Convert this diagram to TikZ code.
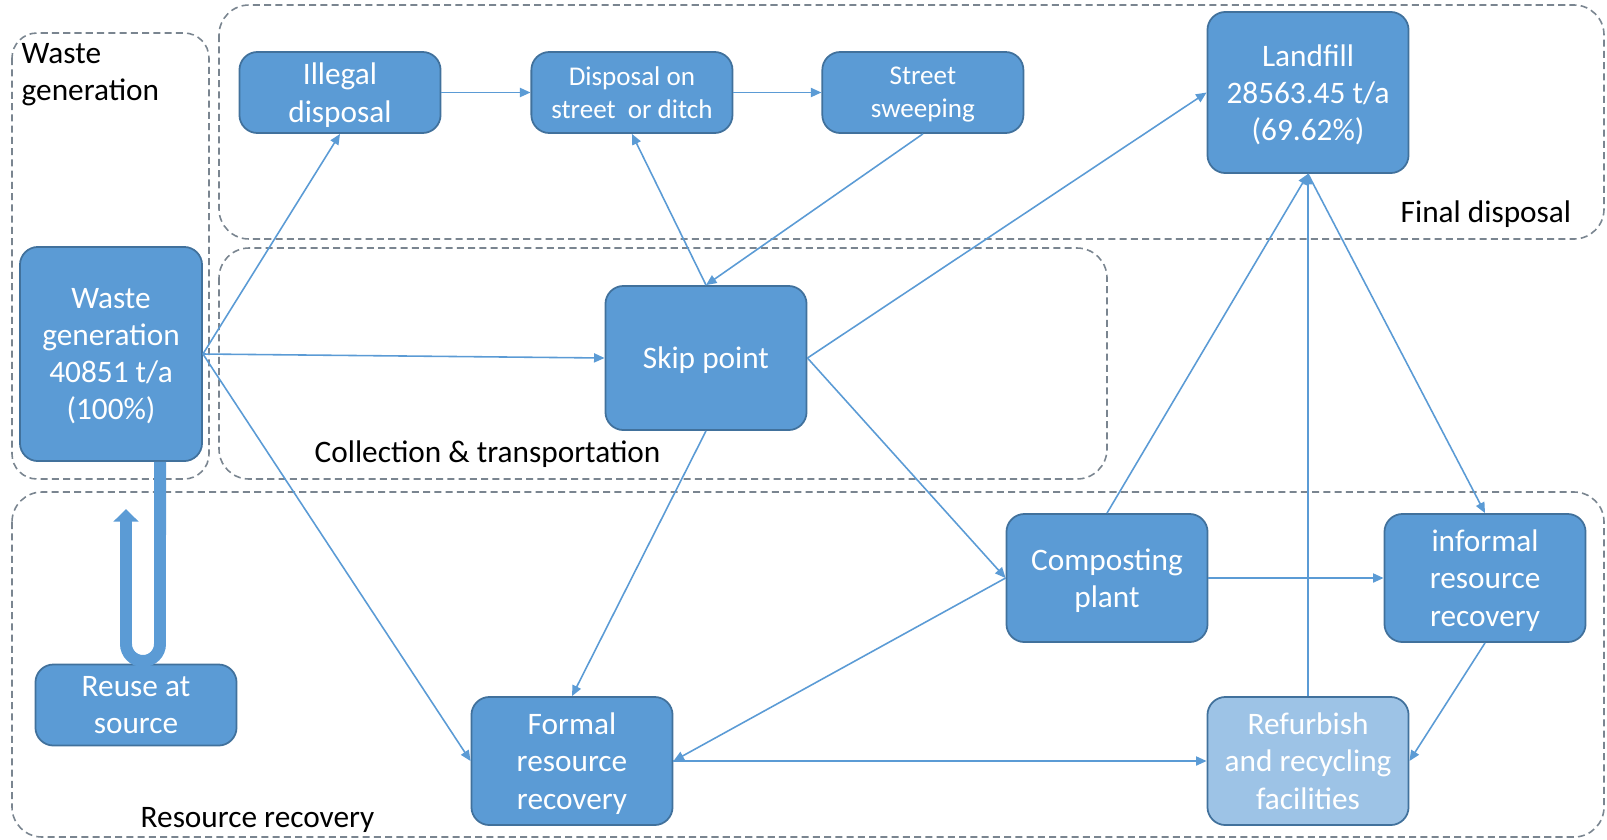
\documentclass[tikz,border=0pt]{standalone}
\usepackage{fontspec}
\setmainfont{Carlito}
\usetikzlibrary{arrows.meta, positioning}
\definecolor{boxblue}{HTML}{5B9BD5}
\definecolor{boxedge}{HTML}{41719C}
\definecolor{boxlight}{HTML}{9DC3E6}
\definecolor{groupgray}{HTML}{7A8590}

\begin{document}
\begin{tikzpicture}[
    x=0.01cm, y=-0.01cm,
    box/.style={draw=boxedge, fill=boxblue, text=white, rounded corners=0.18cm, line width=0.5pt,
        minimum width=2.01cm, minimum height=0.81cm, align=center, inner sep=2pt, text depth=0pt,
        font=\fontsize{8.9}{10.6}\selectfont},
    smallbox/.style={box, font=\fontsize{7.7}{9.5}\selectfont},
    groupbox/.style={draw=groupgray, line width=0.45pt, dash pattern=on 2pt off 1.2pt, rounded corners=0.3cm},
    grouplabel/.style={inner sep=0pt, font=\fontsize{8.9}{10.6}\selectfont},
    flow/.style={draw=boxblue, line width=0.45pt, -{Triangle[length=3pt, width=2.6pt]}},
    reusearrow/.style={draw=boxblue, line width=3.4pt, -{Triangle[length=3.6pt, width=7pt]}}
]
    \useasboundingbox (0,0) rectangle (1607,839);

    % Stage groups (dashed)
    \draw[groupbox, rounded corners=0.25cm] (12,33) rectangle (209,479);
    \draw[groupbox] (219,5) rectangle (1604,239);
    \draw[groupbox] (219,248) rectangle (1107,479);
    \draw[groupbox] (12,492) rectangle (1604,837);

    \node[grouplabel, anchor=west, align=left] (wglabel) at (21,75) {Waste\\generation};
    \node[grouplabel, anchor=base west] (fdlabel) at (1400,222) {Final disposal};
    \node[grouplabel, anchor=base west] (ctlabel) at (314,462) {Collection \& transportation};
    \node[grouplabel, anchor=base west] (rrlabel) at (140,827) {Resource recovery};

    % Source
    \node[box, minimum width=1.82cm, minimum height=2.14cm] (wastegen) at (111,354) {Waste\\generation\\40851 t/a\\(100\%)};
    \node[box] (reuse) at (136,705) {Reuse at\\source};

    % Final disposal row
    \node[box] (illegal) at (340,92.5) {Illegal\\disposal};
    \node[smallbox, right=0.89cm of illegal] (disposal) {Disposal on\\street~ or ditch};
    \node[smallbox, right=0.88cm of disposal] (street) {Street\\sweeping};
    \node[box, minimum height=1.61cm] (landfill) at (1308,92.5) {Landfill\\28563.45 t/a\\(69.62\%)};

    % Collection
    \node[box, minimum height=1.44cm] (skip) at (706,358) {Skip point};

    % Resource recovery
    \node[box, minimum height=1.28cm] (composting) at (1107,578) {Composting\\plant};
    \node[box, minimum height=1.28cm] (informal) at (1485,578) {informal\\resource\\recovery};
    \node[box, minimum height=1.28cm] (formal) at (572,761) {Formal\\resource\\recovery};
    \node[box, fill=boxlight, minimum height=1.28cm] (refurbish) at (landfill |- formal) {Refurbish\\and recycling\\facilities};

    % Flows
    \draw[flow] (wastegen.east) -- (illegal.south);
    \draw[flow] (wastegen.east) -- (skip.west);
    \draw[flow] (wastegen.east) -- (formal.west);
    \draw[flow] (illegal) -- (disposal);
    \draw[flow] (disposal) -- (street);
    \draw[flow] (street.south) -- (skip.north);
    \draw[flow] (skip.north) -- (disposal.south);
    \draw[flow] (skip.east) -- (landfill.west);
    \draw[flow] (skip.east) -- (composting.west);
    \draw[flow] (skip.south) -- (formal.north);
    \draw[flow] (composting.north) -- (landfill.south);
    \draw[flow] (refurbish.north) -- (landfill.south);
    \draw[flow] (landfill.south) -- (informal.north);
    \draw[flow] (composting) -- (informal);
    \draw[flow] (composting.west) -- (formal.east);
    \draw[flow] (formal) -- (refurbish);
    \draw[flow] (informal.south) -- (refurbish.east);

    % Reuse loop
    \coordinate (reusetip) at (126,509);
    \draw[reusearrow, rounded corners=0.17cm] ([xshift=0.49cm]wastegen.south) -- (160,661) -- (126,661) -- (reusetip);
\end{tikzpicture}
\end{document}
